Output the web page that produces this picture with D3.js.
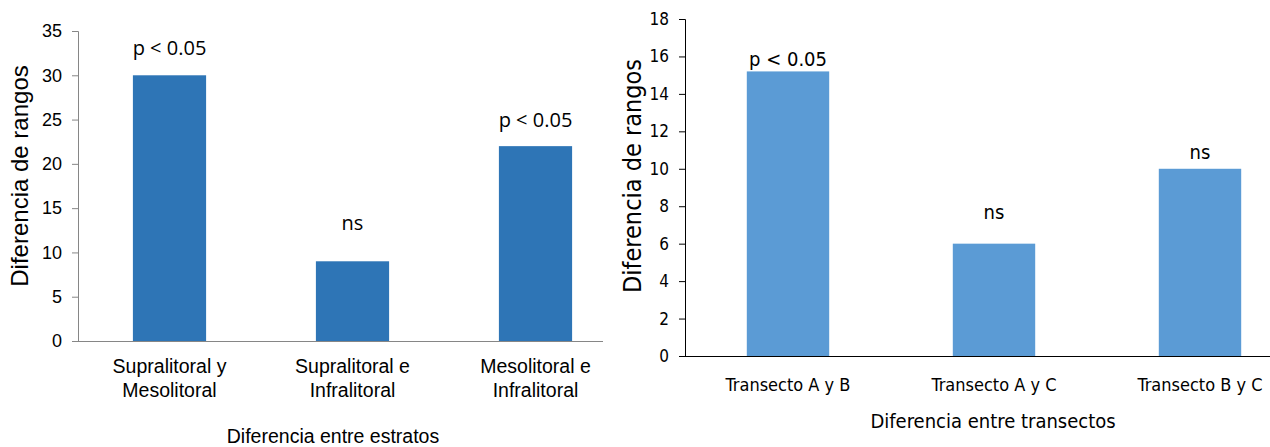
<!DOCTYPE html>
<html>
<head>
<meta charset="utf-8">
<script src="https://cdn.jsdelivr.net/npm/d3@7"></script>
<style>
  body { margin: 0; background: #fff; }
  svg { display: block; }
</style>
</head>
<body>
<svg id="chart" width="1270" height="447"></svg>
<script>
// left chart: estratos
const estratos = [["Supralitoral y", "Mesolitoral"], ["Supralitoral e", "Infralitoral"], ["Mesolitoral e", "Infralitoral"]];
const estratosValues = [30, 9, 22];
const estratosSig = ["p < 0.05", "ns", "p < 0.05"];
const estratosTicks = [0, 5, 10, 15, 20, 25, 30, 35];

// right chart: transectos
const transectos = ["Transecto A  y B", "Transecto A y C", "Transecto B y C"];
const transectosValues = [15.2, 6, 10];
const transectosSig = ["p < 0.05", "ns", "ns"];
const transectosTicks = [0, 2, 4, 6, 8, 10, 12, 14, 16, 18];

const svg = d3.select("#chart");

function drawChart(opt) {
    const g = svg.append("g");
    const keys = opt.values.map((d, i) => i);

    const x = d3.scaleBand()
        .domain(keys)
        .range([opt.left, opt.right])
        .paddingInner(0.6)
        .paddingOuter(0.3);

    const y = d3.scaleLinear()
        .domain([0, opt.max])
        .range([opt.bottom, opt.top]);

    // bars
    g.selectAll(".bar")
        .data(opt.values)
        .enter().append("rect")
        .attr("class", "bar")
        .attr("x", (d, i) => x(i))
        .attr("width", x.bandwidth())
        .attr("y", d => y(d))
        .attr("height", d => opt.bottom - y(d))
        .attr("fill", opt.color);

    // y axis
    const yAxis = g.append("g")
        .attr("transform", `translate(${opt.left},0)`)
        .call(d3.axisLeft(y).tickValues(opt.ticks).tickSize(6).tickSizeOuter(6).tickPadding(opt.tickPad));
    yAxis.select(".domain").attr("stroke", opt.axisColor);
    yAxis.selectAll(".tick line").attr("stroke", opt.axisColor);
    yAxis.selectAll("text")
        .attr("fill", "#000")
        .style("font-family", opt.font)
        .style("font-size", opt.tickFont + "px");

    // x axis line
    g.append("line")
        .attr("x1", opt.left)
        .attr("x2", opt.axisEnd)
        .attr("y1", opt.bottom + 0.5)
        .attr("y2", opt.bottom + 0.5)
        .attr("stroke", opt.axisColor);

    // significance labels
    g.selectAll(".sig")
        .data(opt.sig)
        .enter().append("text")
        .attr("x", (d, i) => x(i) + x.bandwidth() / 2)
        .attr("y", (d, i) => y(opt.values[i]) - opt.sigOffset[i])
        .attr("text-anchor", "middle")
        .style("font-family", opt.sigFontFamily)
        .style("font-size", opt.sigFont + "px")
        .text(d => d);

    // category labels
    g.selectAll(".cat")
        .data(opt.cats)
        .enter().append("text")
        .attr("x", (d, i) => x(i) + x.bandwidth() / 2)
        .attr("y", opt.catY)
        .attr("text-anchor", "middle")
        .style("font-family", opt.font)
        .style("font-size", opt.catFont + "px")
        .each(function(d) {
            const lines = Array.isArray(d) ? d : [d];
            d3.select(this).selectAll("tspan")
                .data(lines)
                .enter().append("tspan")
                .attr("x", d3.select(this).attr("x"))
                .attr("dy", (l, j) => j === 0 ? 0 : opt.lineH)
                .text(l => l);
        });

    // axis titles
    g.append("text")
        .attr("x", opt.xTitleX)
        .attr("y", opt.xTitleY)
        .attr("text-anchor", "middle")
        .style("font-family", opt.font)
        .style("font-size", opt.xTitleFont + "px")
        .text(opt.xTitle);

    g.append("text")
        .attr("transform", `translate(${opt.yTitleX},${opt.yTitleY}) rotate(-90)`)
        .attr("text-anchor", "middle")
        .style("font-family", opt.font)
        .style("font-size", opt.yTitleFont + "px")
        .text(opt.yTitle);
}

drawChart({
    values: estratosValues, sig: estratosSig, cats: estratos, ticks: estratosTicks,
    max: 35, left: 78, right: 627, axisEnd: 603, top: 31, bottom: 341,
    color: "#2E75B6", axisColor: "#868686",
    font: "'Liberation Sans', Arial, sans-serif", tickFont: 18, tickPad: 10,
    sigFontFamily: "'Open Sans', sans-serif", sigFont: 20, sigOffset: [20, 31, 19],
    catY: 373, catFont: 19.5, lineH: 24,
    xTitle: "Diferencia entre estratos", xTitleX: 333, xTitleY: 443, xTitleFont: 19.5,
    yTitle: "Diferencia de  rangos", yTitleX: 28, yTitleY: 176, yTitleFont: 24
});

drawChart({
    values: transectosValues, sig: transectosSig, cats: transectos, ticks: transectosTicks,
    max: 18, left: 685, right: 1303, axisEnd: 1270, top: 19, bottom: 356,
    color: "#5B9BD5", axisColor: "#000",
    font: "'DejaVu Sans Condensed', 'Liberation Sans Narrow', sans-serif", tickFont: 17, tickPad: 10,
    sigFontFamily: "'DejaVu Sans Condensed', sans-serif", sigFont: 20, sigOffset: [5, 25, 10],
    catY: 391, catFont: 18, lineH: 22,
    xTitle: "Diferencia entre transectos", xTitleX: 993, xTitleY: 428, xTitleFont: 20,
    yTitle: "Diferencia de rangos", yTitleX: 641, yTitleY: 176, yTitleFont: 25
});
</script>
</body>
</html>
